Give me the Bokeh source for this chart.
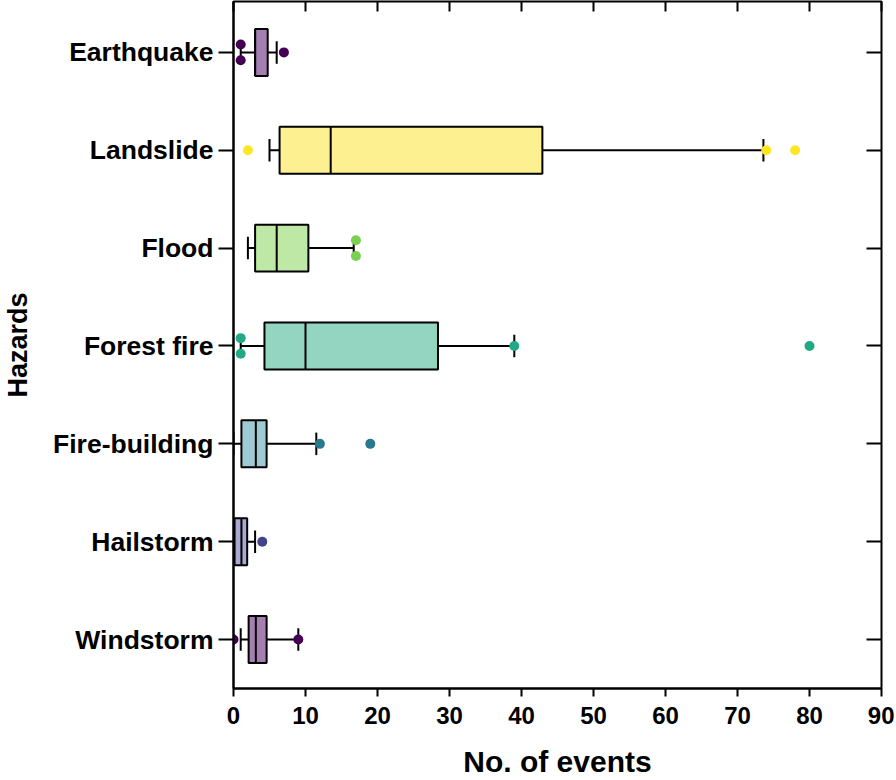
from bokeh.plotting import figure
from bokeh.models import Range1d, FixedTicker, LinearAxis, ColumnDataSource
from bokeh.embed import file_html
from bokeh.resources import INLINE

# ---- data ----
categories = ["Earthquake", "Landslide", "Flood", "Forest fire",
              "Fire-building", "Hailstorm", "Windstorm"]
whisker_lo = [1, 5, 2, 1, 0, 0, 1]
q1 = [3, 6.4, 3, 4.3, 1.1, 0.15, 2.1]
median = [3, 13.5, 6, 10, 3.1, 1.1, 3.1]
q3 = [4.75, 42.9, 10.4, 28.4, 4.6, 1.9, 4.6]
whisker_hi = [6, 73.6, 16.7, 39, 11.5, 3, 9]
outliers = [[1, 1, 7], [2, 74, 78], [17, 17], [1, 1, 39, 80],
            [12, 19], [4], [0, 9]]
fill_colors = ["#a480b1", "#fdf091", "#bde8a5", "#93d5c1",
               "#9fc9d3", "#a8aad2", "#a57fb0"]
point_colors = ["#440154", "#fde725", "#7ad151", "#22a884",
                "#2a788e", "#414487", "#440154"]
x_ticks = [0, 10, 20, 30, 40, 50, 60, 70, 80, 90]

FONT = "Liberation Sans"
n = len(categories)
ypos = [n - 1 - i for i in range(n)]
BOX_H = 0.48
CAP_H = 0.23
DUP_OFF = 0.08

p = figure(width=894, height=780, output_backend="svg", toolbar_location=None,
           x_range=Range1d(0, 90), y_range=Range1d(-0.5, 6.52),
           min_border_left=233, min_border_right=13, min_border_top=1,
           min_border_bottom=91)
p.xgrid.visible = False
p.ygrid.visible = False
p.outline_line_color = "black"
p.outline_line_width = 2
p.outline_line_alpha = 1

src = ColumnDataSource(dict(y=ypos, lo=whisker_lo, q1=q1, med=median, q3=q3,
                            hi=whisker_hi, fill=fill_colors,
                            yb=[y - BOX_H / 2 for y in ypos],
                            yt=[y + BOX_H / 2 for y in ypos],
                            cb=[y - CAP_H / 2 for y in ypos],
                            ct=[y + CAP_H / 2 for y in ypos]))
# whiskers and caps
p.segment(x0="lo", x1="q1", y0="y", y1="y", source=src, line_color="black", line_width=2)
p.segment(x0="q3", x1="hi", y0="y", y1="y", source=src, line_color="black", line_width=2)
p.segment(x0="lo", x1="lo", y0="cb", y1="ct", source=src, line_color="black", line_width=2)
p.segment(x0="hi", x1="hi", y0="cb", y1="ct", source=src, line_color="black", line_width=2)
# boxes and medians
p.hbar(y="y", left="q1", right="q3", height=BOX_H, source=src, fill_color="fill",
       line_color="black", line_width=2)
p.segment(x0="med", x1="med", y0="yb", y1="yt", source=src, line_color="black", line_width=2)

# outlier points (duplicates offset vertically)
px, py, pc = [], [], []
for i, vals in enumerate(outliers):
    seen = {}
    for v in vals:
        seen[v] = seen.get(v, 0) + 1
    for v, cnt in seen.items():
        offs = [0.0] if cnt == 1 else [DUP_OFF, -DUP_OFF][:cnt]
        for o in offs:
            px.append(v)
            py.append(ypos[i] + o)
            pc.append(point_colors[i])
p.scatter(x=px, y=py, size=10, fill_color=pc, line_color=pc, line_width=0)

# ---- axes ----
xa = p.xaxis[0]
xa.ticker = FixedTicker(ticks=x_ticks)
xa.minor_tick_line_color = None
xa.major_tick_in = 0
xa.major_tick_out = 8
xa.major_tick_line_width = 2
xa.axis_line_width = 2
xa.major_label_text_font = FONT
xa.major_label_text_font_style = "bold"
xa.major_label_text_font_size = "24px"
xa.major_label_text_color = "black"
xa.major_label_standoff = 10
xa.axis_label = "No. of events"
xa.axis_label_text_font = FONT
xa.axis_label_text_font_style = "bold"
xa.axis_label_text_font_size = "30px"
xa.axis_label_text_color = "black"
xa.axis_label_standoff = 18

ya = p.yaxis[0]
ya.ticker = FixedTicker(ticks=ypos)
ya.major_label_overrides = {y: c for y, c in zip(ypos, categories)}
ya.minor_tick_line_color = None
ya.major_tick_in = 0
ya.major_tick_out = 15
ya.major_tick_line_width = 2
ya.axis_line_width = 2
ya.major_label_text_font = FONT
ya.major_label_text_font_style = "bold"
ya.major_label_text_font_size = "26.5px"
ya.major_label_text_color = "black"
ya.major_label_standoff = 5
ya.axis_label = "Hazards"
ya.axis_label_text_font = FONT
ya.axis_label_text_font_style = "bold"
ya.axis_label_text_font_size = "27px"
ya.axis_label_text_color = "black"
ya.axis_label_standoff = 17

top = LinearAxis(ticker=FixedTicker(ticks=x_ticks), major_tick_in=10, major_tick_out=0,
                 major_tick_line_width=2, minor_tick_line_color=None,
                 axis_line_color=None, major_label_text_font_size="0px",
                 major_label_standoff=0)
p.add_layout(top, "above")
right = LinearAxis(ticker=FixedTicker(ticks=ypos), major_tick_in=15, major_tick_out=0,
                   major_tick_line_width=2, minor_tick_line_color=None,
                   axis_line_color=None, major_label_text_font_size="0px",
                   major_label_standoff=0)
p.add_layout(right, "right")

open("out.html", "w").write(file_html(p, INLINE))
